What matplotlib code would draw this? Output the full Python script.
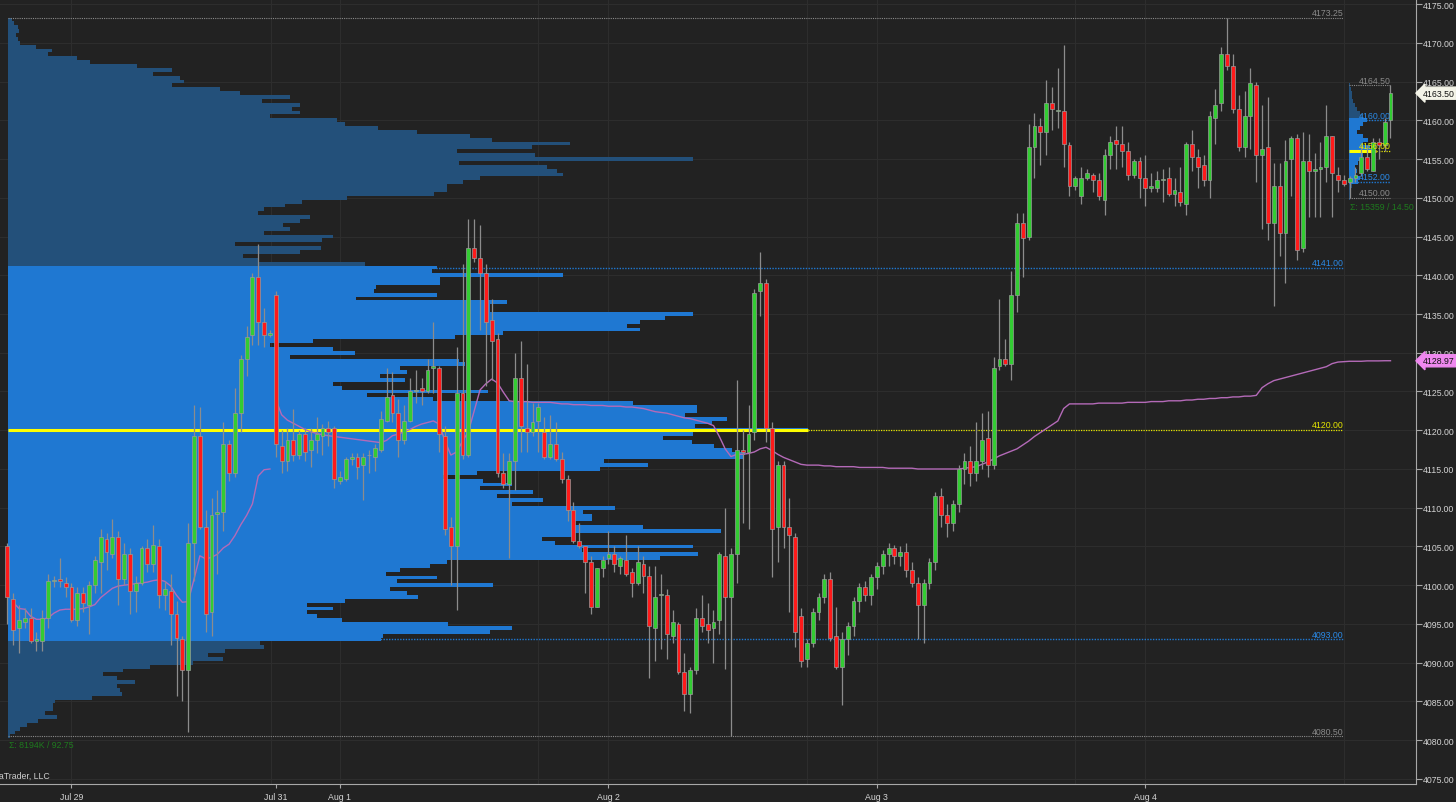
import numpy as np
import matplotlib
import matplotlib.pyplot as plt
import matplotlib.transforms as mtransforms

plt.rcParams['font.family'] = ['Liberation Sans Narrow', 'Liberation Sans', 'DejaVu Sans']

BG = '#222222'
GREEN = '#33cc33'
RED = '#ff1a1a'
PROF_DARK = '#23507a'
PROF_LIGHT = '#1f78d2'
BLUE_TXT = '#2a8ae8'

# ---- 30 minute bars, ES futures (Jul 28 evening -> Aug 4 evening) ----
opens = [4105.0, 4098.25, 4094.5, 4095.25, 4095.75, 4092.75, 4092.75, 4095.75, 4100.5, 4100.75,
         4100.25, 4099.75, 4095.5, 4099.0, 4097.5, 4100.0, 4103.0, 4106.0, 4104.0, 4106.25,
         4100.75, 4104.0, 4099.25, 4100.25, 4104.75, 4102.75, 4105.0, 4098.75, 4099.25, 4096.25,
         4093.0, 4089.0, 4105.5, 4119.25, 4107.5, 4096.5, 4109.25, 4109.5, 4118.25, 4114.5,
         4122.25, 4129.25, 4132.25, 4139.75, 4134.0, 4132.25, 4137.5, 4118.0, 4116.0, 4118.75,
         4116.75, 4119.5, 4117.5, 4118.75, 4119.25, 4120.25, 4120.25, 4113.5, 4113.75, 4116.25,
         4116.5, 4115.5, 4116.75, 4116.5, 4117.5, 4121.25, 4124.5, 4122.25, 4118.75, 4121.25,
         4125.0, 4125.5, 4125.0, 4128.0, 4128.0, 4119.25, 4107.5, 4105.0, 4124.75, 4116.75,
         4143.5, 4142.25, 4140.25, 4134.25, 4131.75, 4114.5, 4113.0, 4116.0, 4126.75, 4120.25,
         4119.75, 4121.25, 4119.75, 4116.5, 4118.25, 4116.25, 4113.75, 4109.75, 4105.75, 4105.0,
         4103.0, 4097.25, 4102.25, 4103.5, 4104.0, 4102.5, 4103.25, 4101.75, 4100.25, 4102.75,
         4101.25, 4094.5, 4098.75, 4098.75, 4093.5, 4095.0, 4088.75, 4086.0, 4089.0, 4095.75,
         4095.0, 4094.5, 4095.5, 4103.75, 4098.5, 4104.0, 4117.5, 4117.25, 4119.75, 4138.0,
         4139.0, 4120.25, 4107.5, 4115.5, 4107.5, 4106.25, 4096.0, 4090.5, 4092.5, 4096.5,
         4098.5, 4100.75, 4093.5, 4089.5, 4093.0, 4094.75, 4098.0, 4099.75, 4098.75, 4101.0,
         4102.5, 4104.0, 4104.75, 4103.75, 4104.25, 4102.0, 4100.25, 4097.5, 4100.25, 4103.0,
         4111.5, 4109.0, 4108.0, 4110.5, 4115.0, 4116.0, 4114.5, 4116.0, 4119.0, 4115.5,
         4128.25, 4129.25, 4128.5, 4137.5, 4146.75, 4145.0, 4156.5, 4159.25, 4158.5, 4162.25,
         4161.25, 4161.25, 4156.75, 4151.5, 4150.25, 4152.5, 4153.0, 4152.25, 4149.75, 4155.5,
         4157.5, 4157.0, 4156.0, 4153.0, 4154.75, 4152.5, 4151.25, 4151.25, 4152.25, 4152.5,
         4150.5, 4150.75, 4149.25, 4157.0, 4155.25, 4154.25, 4152.25, 4160.25, 4162.25, 4168.5,
         4167.0, 4161.5, 4156.5, 4160.5, 4164.5, 4155.5, 4156.5, 4146.75, 4151.5, 4145.5,
         4155.0, 4157.75, 4143.5, 4154.75, 4153.5, 4153.75, 4154.0, 4158.0, 4153.0, 4152.25,
         4152.0, 4152.5, 4153.25, 4155.25, 4153.5, 4157.25, 4156.75, 4160.0]
highs = [4105.5, 4099.0, 4097.5, 4097.0, 4097.0, 4094.0, 4096.75, 4101.5, 4101.25, 4103.5,
         4101.0, 4100.25, 4099.75, 4099.75, 4100.5, 4103.75, 4107.25, 4106.75, 4108.5, 4107.0,
         4105.5, 4104.75, 4101.25, 4105.0, 4106.0, 4107.75, 4106.0, 4100.5, 4101.5, 4098.0,
         4093.5, 4108.0, 4123.25, 4123.0, 4109.75, 4111.25, 4112.25, 4121.0, 4118.75, 4125.5,
         4129.75, 4133.5, 4140.25, 4144.0, 4135.75, 4133.0, 4138.0, 4120.0, 4120.25, 4122.75,
         4120.0, 4120.25, 4120.25, 4121.75, 4120.75, 4121.25, 4120.5, 4114.75, 4116.5, 4117.0,
         4117.0, 4117.0, 4117.5, 4118.25, 4122.5, 4128.0, 4127.5, 4124.0, 4123.25, 4126.75,
         4127.75, 4126.75, 4129.25, 4134.0, 4128.25, 4120.5, 4108.75, 4130.75, 4141.5, 4147.25,
         4147.25, 4146.5, 4141.5, 4137.0, 4132.5, 4117.0, 4117.0, 4130.0, 4131.5, 4128.5,
         4123.5, 4123.5, 4121.75, 4122.0, 4121.0, 4117.25, 4114.25, 4110.75, 4108.0, 4105.0,
         4103.75, 4102.25, 4103.75, 4107.0, 4105.0, 4103.75, 4106.5, 4102.25, 4105.0, 4103.75,
         4102.5, 4102.5, 4101.5, 4099.5, 4096.75, 4095.25, 4091.25, 4089.5, 4097.0, 4098.75,
         4097.75, 4096.75, 4104.25, 4110.0, 4104.75, 4126.5, 4120.0, 4123.25, 4138.25, 4143.0,
         4139.5, 4121.0, 4116.0, 4116.0, 4111.25, 4106.75, 4097.0, 4093.0, 4097.0, 4099.0,
         4101.5, 4101.75, 4097.25, 4094.0, 4095.25, 4098.5, 4100.25, 4100.5, 4101.5, 4103.0,
         4104.5, 4105.5, 4105.25, 4105.0, 4105.5, 4103.0, 4101.0, 4100.75, 4103.5, 4112.0,
         4112.5, 4110.5, 4111.0, 4115.5, 4117.0, 4118.0, 4121.0, 4122.25, 4122.5, 4129.5,
         4137.0, 4131.75, 4140.5, 4148.0, 4148.0, 4159.5, 4161.0, 4160.25, 4165.25, 4164.25,
         4166.75, 4169.75, 4157.25, 4152.75, 4154.0, 4153.75, 4153.25, 4153.25, 4156.25, 4158.0,
         4159.25, 4159.25, 4157.25, 4155.0, 4155.25, 4155.5, 4153.25, 4153.5, 4153.75, 4154.0,
         4152.5, 4154.0, 4157.25, 4158.75, 4156.25, 4155.5, 4161.25, 4164.0, 4169.5, 4173.25,
         4168.5, 4163.25, 4163.75, 4166.75, 4165.0, 4162.0, 4163.0, 4154.5, 4154.5, 4157.5,
         4158.0, 4158.25, 4158.5, 4158.25, 4155.75, 4157.25, 4162.0, 4158.0, 4154.0, 4153.0,
         4152.75, 4154.0, 4156.75, 4156.75, 4157.75, 4157.75, 4160.25, 4164.5]
lows = [4095.0, 4092.25, 4091.25, 4094.5, 4092.5, 4091.5, 4091.5, 4094.5, 4099.75, 4099.75,
        4098.5, 4095.25, 4094.75, 4096.5, 4093.75, 4099.0, 4099.0, 4102.0, 4103.5, 4097.5,
        4100.0, 4096.25, 4096.5, 4100.0, 4101.75, 4101.75, 4097.0, 4096.75, 4092.25, 4085.75,
        4085.0, 4081.0, 4100.5, 4107.25, 4094.0, 4093.5, 4101.5, 4107.0, 4113.5, 4114.0,
        4119.75, 4127.0, 4131.0, 4131.0, 4130.75, 4132.0, 4116.5, 4114.5, 4114.75, 4116.0,
        4116.25, 4116.0, 4115.25, 4117.0, 4116.75, 4118.0, 4112.5, 4113.0, 4113.5, 4115.5,
        4113.75, 4111.0, 4114.5, 4114.75, 4117.25, 4121.0, 4121.0, 4116.5, 4118.25, 4121.0,
        4123.5, 4123.25, 4124.75, 4124.75, 4117.25, 4106.5, 4100.0, 4096.75, 4116.25, 4116.5,
        4141.75, 4133.0, 4125.75, 4126.5, 4114.0, 4112.5, 4103.5, 4112.25, 4117.25, 4117.25,
        4119.25, 4117.25, 4116.25, 4116.25, 4116.0, 4113.25, 4108.25, 4105.5, 4104.75, 4099.0,
        4096.25, 4097.25, 4101.0, 4102.75, 4101.75, 4101.5, 4101.25, 4098.5, 4100.0, 4099.0,
        4088.0, 4090.25, 4091.75, 4090.5, 4092.5, 4088.5, 4083.75, 4083.5, 4088.5, 4094.0,
        4092.5, 4090.0, 4093.75, 4089.25, 4080.5, 4100.25, 4108.0, 4107.25, 4118.75, 4134.75,
        4118.5, 4101.0, 4103.0, 4104.75, 4096.5, 4092.0, 4089.5, 4089.5, 4092.0, 4095.5,
        4097.75, 4092.75, 4089.25, 4084.5, 4091.0, 4093.5, 4096.5, 4098.0, 4097.5, 4099.5,
        4101.5, 4102.5, 4102.75, 4102.5, 4101.0, 4099.75, 4093.0, 4092.5, 4099.5, 4102.0,
        4107.5, 4106.25, 4107.0, 4109.5, 4113.0, 4112.75, 4113.5, 4115.0, 4114.0, 4115.0,
        4127.75, 4128.25, 4126.5, 4135.25, 4139.75, 4144.5, 4152.5, 4154.25, 4155.5, 4158.75,
        4159.0, 4154.0, 4150.25, 4151.0, 4149.25, 4152.25, 4150.75, 4149.75, 4147.75, 4153.75,
        4153.75, 4154.0, 4152.25, 4152.5, 4150.0, 4149.0, 4150.75, 4150.75, 4149.5, 4150.25,
        4149.0, 4149.0, 4147.75, 4153.5, 4151.25, 4151.5, 4150.0, 4157.0, 4161.25, 4166.5,
        4161.0, 4156.0, 4155.25, 4156.25, 4152.0, 4146.0, 4144.5, 4136.0, 4142.5, 4139.0,
        4150.25, 4142.0, 4143.0, 4147.5, 4147.5, 4147.5, 4152.0, 4147.5, 4150.75, 4151.5,
        4150.0, 4152.0, 4152.75, 4153.5, 4153.5, 4155.0, 4156.0, 4157.75]
closes = [4098.5, 4094.25, 4095.5, 4095.75, 4092.75, 4093.0, 4095.75, 4100.5, 4100.5, 4100.5,
          4099.75, 4095.5, 4099.0, 4097.75, 4100.0, 4103.25, 4106.25, 4104.25, 4106.25, 4100.75,
          4104.0, 4099.25, 4100.25, 4104.75, 4102.75, 4105.25, 4098.75, 4099.5, 4096.25, 4093.25,
          4089.0, 4105.5, 4119.25, 4107.5, 4096.25, 4109.0, 4109.5, 4118.25, 4114.5, 4122.25,
          4129.25, 4132.0, 4139.75, 4134.0, 4132.25, 4132.5, 4118.25, 4116.0, 4118.75, 4116.75,
          4119.5, 4117.25, 4118.75, 4119.5, 4120.25, 4119.75, 4113.75, 4114.0, 4116.25, 4116.5,
          4115.25, 4116.5, 4116.75, 4117.75, 4121.5, 4124.25, 4122.25, 4118.75, 4121.25, 4125.0,
          4125.25, 4125.0, 4127.75, 4128.25, 4119.5, 4107.25, 4105.0, 4124.75, 4116.75, 4143.5,
          4142.25, 4140.25, 4134.0, 4131.5, 4114.5, 4113.0, 4116.0, 4126.75, 4120.5, 4119.75,
          4121.0, 4123.0, 4116.5, 4118.25, 4116.25, 4113.75, 4109.75, 4105.75, 4105.0, 4103.0,
          4097.25, 4102.25, 4103.25, 4104.0, 4102.75, 4103.5, 4101.5, 4100.25, 4103.0, 4101.25,
          4094.75, 4098.5, 4098.75, 4093.75, 4095.25, 4088.75, 4086.0, 4089.0, 4095.75, 4094.75,
          4094.25, 4095.25, 4104.0, 4098.5, 4104.0, 4117.5, 4117.25, 4119.5, 4137.75, 4139.0,
          4120.25, 4107.25, 4115.5, 4107.5, 4106.5, 4094.0, 4090.25, 4092.5, 4096.5, 4098.5,
          4100.75, 4093.25, 4089.5, 4093.0, 4094.75, 4098.0, 4099.75, 4098.75, 4101.0, 4102.5,
          4104.0, 4104.75, 4103.75, 4104.25, 4102.0, 4100.25, 4097.5, 4100.25, 4103.0, 4111.5,
          4109.0, 4108.0, 4110.5, 4115.0, 4116.0, 4114.5, 4116.0, 4118.75, 4115.5, 4128.0,
          4129.25, 4128.5, 4137.5, 4146.75, 4144.75, 4156.5, 4159.25, 4158.5, 4162.25, 4161.5,
          4161.25, 4157.0, 4151.5, 4152.5, 4152.5, 4153.25, 4152.25, 4150.25, 4155.5, 4157.25,
          4157.0, 4156.0, 4153.0, 4154.75, 4152.5, 4151.25, 4151.5, 4152.25, 4152.25, 4150.5,
          4151.0, 4149.5, 4157.0, 4155.25, 4154.0, 4152.25, 4160.5, 4162.0, 4168.5, 4167.0,
          4161.5, 4156.5, 4160.5, 4164.75, 4155.5, 4156.25, 4146.75, 4151.5, 4145.5, 4154.75,
          4157.75, 4143.25, 4154.75, 4153.5, 4153.75, 4154.0, 4158.0, 4153.25, 4152.25, 4151.75,
          4152.5, 4153.0, 4155.25, 4153.75, 4157.25, 4156.75, 4159.75, 4163.5]

# VWAP: prior-session line (first 46 bars) and weekly line (from Sunday open)
vwap_prev = [np.nan, 4097.8, 4097.0, 4096.9, 4096.0, 4095.6, 4095.6, 4095.8, 4096.4, 4096.8,
             4096.9, 4096.9, 4096.9, 4097.0, 4097.2, 4097.5, 4098.4, 4099.0, 4099.6, 4099.9,
             4100.0, 4100.1, 4100.2, 4100.3, 4100.4, 4100.6, 4100.7, 4100.5, 4099.9, 4098.7,
             4097.8, 4097.9, 4100.8, 4103.8, 4103.4, 4103.6, 4104.0, 4104.8, 4105.3, 4106.4,
             4107.8, 4109.0, 4110.5, 4114.1, 4114.9, 4115.0]
vwap_week = [4124.0, 4122.0, 4121.3, 4120.9, 4120.5, 4120.1, 4119.8, 4119.6, 4119.4, 4119.3,
             4119.2, 4119.1, 4119.0, 4118.9, 4118.8, 4118.7, 4118.6, 4118.5, 4118.4, 4118.7,
             4119.3, 4119.5, 4119.8, 4120.1, 4120.5, 4120.8, 4121.0, 4121.2, 4120.8, 4118.6,
             4116.8, 4117.2, 4118.6, 4119.8, 4122.5, 4125.2, 4126.0, 4126.6, 4126.1, 4124.9,
             4123.8, 4123.7, 4123.7, 4123.7, 4123.6, 4123.6, 4123.6, 4123.6, 4123.5, 4123.4,
             4123.4, 4123.3, 4123.3, 4123.3, 4123.2, 4123.2, 4123.2, 4123.1, 4123.1, 4123.1,
             4123.0, 4123.0, 4122.9, 4122.8, 4122.6, 4122.4, 4122.3, 4122.2, 4122.0, 4121.8,
             4121.6, 4121.5, 4121.3, 4121.1, 4120.9, 4120.6, 4119.2, 4117.6, 4116.6, 4116.9,
             4116.9, 4117.0, 4117.2, 4117.6, 4117.8, 4117.4, 4116.9, 4116.5, 4116.2, 4115.9,
             4115.6, 4115.5, 4115.5, 4115.5, 4115.4, 4115.4, 4115.3, 4115.3, 4115.3, 4115.3,
             4115.2, 4115.2, 4115.2, 4115.2, 4115.2, 4115.1, 4115.1, 4115.1, 4115.1, 4115.1,
             4115.0, 4115.0, 4115.0, 4115.0, 4115.0, 4115.0, 4115.0, 4115.0, 4115.1, 4115.2,
             4115.3, 4115.6, 4115.9, 4116.3, 4116.7, 4117.0, 4117.3, 4117.6, 4118.1, 4118.6,
             4119.2, 4119.7, 4120.2, 4120.7, 4121.2, 4122.8, 4123.4, 4123.4, 4123.4, 4123.4,
             4123.4, 4123.5, 4123.5, 4123.5, 4123.5, 4123.5, 4123.6, 4123.6, 4123.6, 4123.6,
             4123.7, 4123.7, 4123.7, 4123.8, 4123.8, 4123.8, 4123.9, 4123.9, 4124.0, 4124.0,
             4124.1, 4124.1, 4124.2, 4124.2, 4124.3, 4124.3, 4124.4, 4124.4, 4124.5, 4125.5,
             4126.0, 4126.4, 4126.6, 4126.8, 4127.0, 4127.2, 4127.4, 4127.6, 4127.8, 4128.0,
             4128.2, 4128.6, 4128.8, 4128.85, 4128.9, 4128.9, 4128.9, 4128.95, 4128.95, 4128.95,
             4128.97, 4128.97]

# composite volume profile (K contracts per 0.5 pt row), 4173.0 down to 4080.5
profile_vol = [0.5, 0.8, 1.3, 1.4, 1.0, 1.3, 1.5, 3.6, 5.6, 5.1,
               8.8, 10.5, 16.5, 21.0, 18.6, 22.1, 22.6, 21.0, 27.2, 29.7,
               36.2, 32.6, 37.4, 36.4, 37.4, 33.6, 42.2, 43.2, 47.4, 52.4,
               59.2, 62.1, 72.1, 67.2, 57.6, 67.6, 87.8, 57.9, 69.1, 70.4,
               71.2, 60.5, 58.3, 56.3, 56.3, 54.7, 43.5, 37.7, 35.5, 32.9,
               32.1, 38.7, 37.4, 35.3, 36.2, 32.9, 41.7, 40.3, 29.1, 40.1,
               37.4, 30.1, 32.1, 45.8, 55.0, 54.4, 71.2, 55.4, 55.4, 47.2,
               46.9, 55.0, 44.6, 64.0, 61.8, 61.8, 87.8, 84.2, 81.0, 79.4,
               81.0, 63.5, 57.3, 39.1, 33.6, 41.7, 44.5, 36.2, 57.9, 58.6,
               50.3, 51.2, 47.7, 50.9, 41.7, 42.9, 61.5, 46.0, 54.5, 80.1,
               88.3, 88.3, 86.8, 92.2, 90.3, 88.1, 102.6, 87.8, 84.0, 87.7,
               90.6, 92.9, 94.5, 94.2, 76.5, 82.1, 75.9, 60.1, 55.8, 60.9,
               64.7, 60.5, 67.3, 62.7, 68.6, 64.6, 77.8, 73.7, 74.9, 74.9,
               72.7, 81.4, 91.5, 72.4, 68.5, 70.1, 87.8, 73.6, 88.5, 83.6,
               56.3, 54.1, 50.3, 48.5, 55.0, 49.9, 62.2, 49.0, 51.2, 52.6,
               43.2, 38.3, 41.7, 38.3, 39.7, 42.9, 56.4, 64.7, 61.8, 48.1,
               47.9, 32.3, 32.9, 27.8, 25.6, 27.6, 23.7, 18.2, 14.7, 12.2,
               14.0, 16.3, 14.0, 14.4, 14.6, 10.8, 6.0, 5.8, 5.8, 4.7,
               6.3, 3.8, 2.4, 1.5, 0.9, 0.3]
profile_top = 4173.0
poc, va_high, va_low = 4120.0, 4141.0, 4093.0
range_high, range_low = 4173.25, 4080.5

# current-session profile (contracts per 0.5 pt row), 4164.5 down to 4150.0
session_vol = [25, 50, 75, 75, 100, 150, 200, 275, 325, 450,
               350, 275, 200, 350, 475, 350, 525, 650, 350, 275,
               225, 150, 200, 150, 275, 225, 75, 50, 25, 25]
session_top = 4164.5
s_poc, s_va_high, s_va_low = 4156.0, 4160.0, 4152.0
s_high, s_low = 4164.5, 4150.0

date_ticks = [11, 46, 57, 103, 149, 195]
date_labels = ['Jul 29', 'Jul 31', 'Aug 1', 'Aug 2', 'Aug 3', 'Aug 4']
session_lines = [11, 45.2, 57, 91, 103, 137, 149, 183, 195, 229]

# ---------------------------------------------------------------
fig = plt.figure(figsize=(14.56, 8.03), dpi=100, facecolor=BG)
ax = fig.add_axes([0, 18 / 803, 1416 / 1456, 785 / 803])
ax.set_facecolor(BG)
ax.set_xlim(-1.25, 241.37)
ax.set_ylim(4074.35, 4175.65)

n = len(closes)
x = np.arange(n)
o = np.array(opens)
h = np.array(highs)
l = np.array(lows)
c = np.array(closes)

# grid
for v in np.arange(4075, 4176, 5):
    ax.axhline(v, color='#2d2d2d', lw=0.8, zorder=0)
for s in session_lines:
    ax.axvline(s, color='#2d2d2d', lw=0.8, zorder=0)

# composite profile
pv = np.array(profile_vol)
pp = profile_top - 0.5 * np.arange(len(pv))
scale = 137.1 / pv.max()
pcol = [PROF_LIGHT if va_low <= p <= va_high else PROF_DARK for p in pp]
ax.barh(pp, pv * scale, left=0.1, height=0.5, color=pcol, linewidth=0,
        antialiased=False, zorder=1)

# session profile
sv = np.array(session_vol)
sp = session_top - 0.5 * np.arange(len(sv))
s_left = 229.9
s_scale = 4.45 / sv.max()
scol = [PROF_LIGHT if s_va_low <= p <= s_va_high else PROF_DARK for p in sp]
ax.barh(sp, sv * s_scale, left=s_left, height=0.5, color=scol, linewidth=0,
        antialiased=False, zorder=1)

# level lines + labels
lab_x = 228.9
dot = (0, (1, 1))
ax.hlines(range_high, 0.1, lab_x, colors='#8a8a8a', lw=0.8, linestyles=dot, zorder=2)
ax.hlines(range_low, 0.1, lab_x, colors='#8a8a8a', lw=0.8, linestyles=dot, zorder=2)
ax.hlines([va_high, va_low], 0.1, lab_x, colors=PROF_LIGHT, lw=1.0, linestyles=dot, zorder=2)
poc_end = 0.1 + pv.max() * scale
ax.hlines(poc, 0.1, poc_end, colors='#ffff00', lw=2.2, zorder=2.5)
ax.hlines(poc, poc_end, lab_x, colors='#e6e600', lw=0.9, linestyles=dot, zorder=2.5)

fs = 6.3
lbl = [(range_high, '#8a8a8a'), (va_high, BLUE_TXT), (poc, '#e6e600'),
       (va_low, BLUE_TXT), (range_low, '#8a8a8a')]
for lv, col in lbl:
    ax.text(lab_x, lv + 0.1, f'{lv:.2f}', color=col, fontsize=fs, ha='right', va='bottom', zorder=6)
ax.text(0.3, 4079.4, 'Σ: 8194K / 92.75', color='#1e7a1e', fontsize=fs, ha='left', va='center')

# session levels
s_right = 236.95
ax.hlines(s_high, s_left, s_right, colors='#8a8a8a', lw=0.8, linestyles=dot, zorder=2)
ax.hlines(s_low, s_left, s_right, colors='#8a8a8a', lw=0.8, linestyles=dot, zorder=2)
ax.hlines([s_va_high, s_va_low], s_left, s_right, colors=PROF_LIGHT, lw=1.0, linestyles=dot, zorder=2)
ax.hlines(s_poc, s_left, s_left + 4.6, colors='#ffff00', lw=2.2, zorder=2.5)
ax.hlines(s_poc, s_left + 4.6, s_right, colors='#e6e600', lw=0.9, linestyles=dot, zorder=2.5)
for lv, col in [(s_high, '#8a8a8a'), (s_va_high, BLUE_TXT), (s_poc, '#e6e600'),
                (s_va_low, BLUE_TXT), (s_low, '#8a8a8a')]:
    ax.text(s_right, lv + 0.1, f'{lv:.2f}', color=col, fontsize=fs, ha='right', va='bottom', zorder=6)
ax.text(s_left + 0.1, 4148.9, 'Σ: 15359 / 14.50', color='#1e7a1e', fontsize=fs, ha='left', va='center')

# vwap
ax.plot(x[:46], vwap_prev, color='#b46ab8', lw=1.0, zorder=3)
ax.plot(x[46:], vwap_week, color='#b46ab8', lw=1.0, zorder=3)

# candles
ax.vlines(x, l, h, color='#8c8c8c', lw=0.9, zorder=4)
bottoms = np.minimum(o, c)
heights = np.maximum(np.abs(c - o), 0.12)
colors = [GREEN if cc >= oo else RED for oo, cc in zip(o, c)]
ax.bar(x, heights, bottom=bottoms, width=0.66, color=colors, edgecolor='#9a9a9a',
       linewidth=0.5, zorder=5)

# axes styling
for sp_name in ['top', 'left']:
    ax.spines[sp_name].set_visible(False)
ax.spines['right'].set_color('#a8a8a8')
ax.spines['bottom'].set_color('#a8a8a8')
ax.yaxis.tick_right()
ax.set_yticks(np.arange(4075, 4176, 5))
ax.set_yticklabels([f'{v:.2f}' for v in np.arange(4075, 4176, 5)])
ax.set_xticks(date_ticks)
ax.set_xticklabels(date_labels)
ax.tick_params(axis='y', colors='#a8a8a8', labelcolor='#d4d4d4', labelsize=fs, length=4, pad=1)
ax.tick_params(axis='x', colors='#a8a8a8', labelcolor='#d4d4d4', labelsize=fs, length=3, pad=3)

# price markers on the axis
trans = mtransforms.blended_transform_factory(ax.transAxes, ax.transData)
ax.text(1.0045, closes[-1], f'{closes[-1]:.2f}', transform=trans, ha='left', va='center',
        fontsize=fs, color='#111111', clip_on=False, zorder=10,
        bbox=dict(boxstyle='larrow,pad=0.18', fc='#f4f4e8', ec='#f4f4e8'))
ax.text(1.0045, vwap_week[-1], f'{vwap_week[-1]:.2f}', transform=trans, ha='left', va='center',
        fontsize=fs, color='#111111', clip_on=False, zorder=10,
        bbox=dict(boxstyle='larrow,pad=0.18', fc='#ee88ee', ec='#ee88ee'))

fig.text(50 / 1456, 1 - 777 / 803, '© 2022 NinjaTrader, LLC', color='#cfcfcf', fontsize=fs,
         ha='right', va='center')

fig.savefig('out.png', dpi=100, facecolor=BG)
